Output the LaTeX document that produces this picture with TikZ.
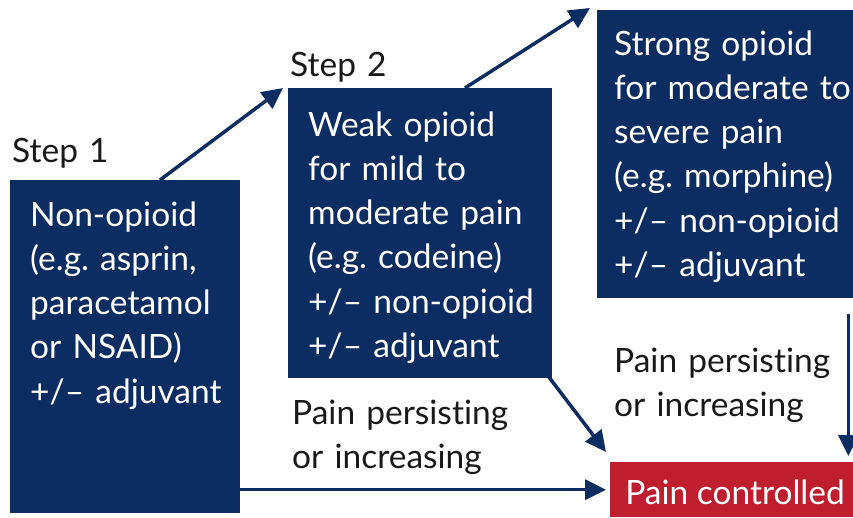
\documentclass[tikz,border=0pt]{standalone}
\usepackage{fontspec}
\setmainfont{Lato}[Ligatures={NoCommon}]
\usetikzlibrary{arrows.meta}
\definecolor{navy}{RGB}{12,45,98}
\definecolor{pcred}{RGB}{190,30,45}
\definecolor{ink}{RGB}{25,25,25}
\frenchspacing
\begin{document}
\begin{tikzpicture}[x=1pt,y=-1pt,
  boxstyle/.style={fill=navy,draw=none,inner sep=0pt,anchor=north west},
  boxtext/.style={text=white,inner sep=0pt,anchor=base west,text width=260pt,align=left,
    font=\fontsize{33.5}{44.3}\selectfont},
  labeltext/.style={text=ink,inner sep=0pt,anchor=base west,text width=260pt,align=left,
    font=\fontsize{33.5}{44.3}\selectfont},
  conn/.style={draw=navy,line width=3.5pt,-{Triangle[length=21pt,width=20pt]}}]
\useasboundingbox (0,0) rectangle (853,517);
% boxes
\node[boxstyle,minimum width=230pt,minimum height=333pt] (b1) at (10,180) {};
\node[boxstyle,minimum width=264pt,minimum height=290pt] (b2) at (288,88) {};
\node[boxstyle,minimum width=256pt,minimum height=288pt] (b3) at (597,10) {};
\node[fill=pcred,draw=none,inner sep=0pt,anchor=north west,minimum width=243pt,minimum height=55pt] (pc) at (610,462) {};
\node[text=white,inner sep=0pt,anchor=base,font=\fontsize{33.5}{44.3}\selectfont] (pct) at (735,504) {Pain controlled};
% step labels
\node[labeltext] (s1) at (12,162) {Step 1};
\node[labeltext] (s2) at (290,76) {Step 2};
% box texts
\node[boxtext] (t1) at (30,226) {Non-opioid\\(e.g. asprin,\\paracetamol\\or NSAID)\\+/– adjuvant};
\node[boxtext] (t2) at (308,136) {Weak opioid\\for mild to\\moderate pain\\(e.g. codeine)\\+/– non-opioid\\+/– adjuvant};
\node[boxtext] (t3) at (614,55) {Strong opioid\\for moderate to\\severe pain\\(e.g. morphine)\\+/– non-opioid\\+/– adjuvant};
% persisting labels
\node[labeltext] (l1) at (292,424) {Pain persisting\\or increasing};
\node[labeltext] (l2) at (614,372) {Pain persisting\\or increasing};
% connectors
\draw[conn] ([xshift=150pt]b1.north west) -- ([xshift=-5pt]b2.north west);
\draw[conn] ([xshift=177pt]b2.north west) -- ([xshift=-7pt,yshift=2pt]b3.north west);
\draw[conn] ([xshift=-4pt,yshift=2pt]b2.south east) -- ([xshift=-4pt,yshift=10pt]pc.north west);
\draw[conn] ([xshift=-5pt,yshift=-16pt]b3.south east) -- ([xshift=-5pt,yshift=6pt]pc.north east);
\draw[conn] (b1.east |- pc.west) -- ([xshift=-4pt]pc.west);
\end{tikzpicture}
\end{document}
